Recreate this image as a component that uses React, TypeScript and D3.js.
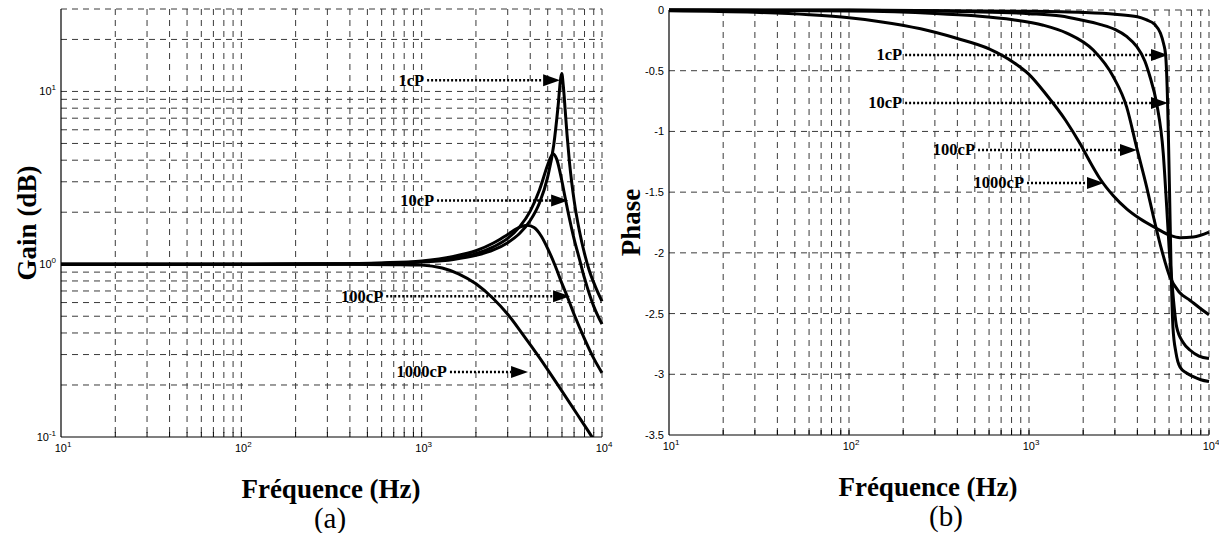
import React from "react";
import * as d3 from "d3";

// ---------- data ----------
const freqMajor = [10, 100, 1000, 10000];
const gainMajor = [0.1, 1, 10];
const phaseTicks = [0, -0.5, -1, -1.5, -2, -2.5, -3, -3.5];
const seriesNames = ["1cP", "10cP", "100cP", "1000cP"];

// gain (linear ratio) vs frequency (Hz)
const gain1cP: [number, number][] = [
  [10, 1], [100, 1.0003], [300, 1.0025], [600, 1.01], [1000, 1.029], [1500, 1.066],
  [2000, 1.125], [2500, 1.21], [3000, 1.333], [3500, 1.51], [4000, 1.79], [4500, 2.26],
  [5000, 3.2], [5400, 4.9], [5700, 8.1], [5900, 11.9], [5985, 12.7], [6100, 10.8],
  [6250, 7.8], [6400, 5.6], [6600, 3.9], [6800, 2.95], [7000, 2.35], [7500, 1.55],
  [8000, 1.15], [8500, 0.92], [9200, 0.74], [10000, 0.61],
];
const gain10cP: [number, number][] = [
  [10, 1], [100, 1.0004], [300, 1.003], [600, 1.012], [1000, 1.034], [1500, 1.08],
  [2000, 1.15], [2500, 1.26], [3000, 1.41], [3500, 1.65], [4000, 2.03], [4500, 2.69],
  [5000, 3.76], [5200, 4.18], [5370, 4.35], [5600, 4.07], [6000, 3.01], [6240, 2.44],
  [6500, 1.98], [7000, 1.4], [7500, 1.07], [8000, 0.83], [9000, 0.57], [10000, 0.45],
];
const gain100cP: [number, number][] = [
  [10, 1], [100, 1.0005], [300, 1.005], [600, 1.018], [1000, 1.045], [1500, 1.11],
  [2000, 1.197], [2500, 1.326], [3000, 1.487], [3500, 1.64], [3850, 1.68], [4200, 1.63],
  [4600, 1.456], [5000, 1.232], [5500, 0.98], [6000, 0.772], [6400, 0.655], [7000, 0.513],
  [8000, 0.37], [9000, 0.285], [10000, 0.235],
];
const gain1000cP: [number, number][] = [
  [10, 1], [100, 1], [300, 0.999], [500, 0.997], [700, 0.994], [1000, 0.988],
  [1300, 0.95], [1600, 0.88], [2000, 0.77], [2500, 0.631], [3000, 0.513], [3660, 0.389],
  [4500, 0.288], [5860, 0.191], [7300, 0.135], [8810, 0.1], [10000, 0.081],
];

// phase vs frequency (Hz)
const phase1cP: [number, number][] = [
  [10, 0], [100, -0.001], [1000, -0.01], [2000, -0.02], [3000, -0.035], [4000, -0.055],
  [4470, -0.08], [5000, -0.12], [5370, -0.19], [5600, -0.28], [5740, -0.37], [5890, -0.77],
  [5960, -1.1], [6030, -1.46], [6150, -2.1], [6310, -2.62], [6550, -2.82], [6900, -2.94],
  [7500, -2.99], [8180, -3.02], [9000, -3.045], [10000, -3.06],
];
const phase10cP: [number, number][] = [
  [10, 0], [100, -0.003], [500, -0.015], [1000, -0.03], [1500, -0.05], [1920, -0.08],
  [2500, -0.12], [3000, -0.16], [3500, -0.22], [3960, -0.3], [4400, -0.42], [4700, -0.55],
  [5120, -0.77], [5570, -1.18], [5820, -1.62], [6000, -1.95], [6190, -2.2], [6610, -2.61],
  [7200, -2.74], [7830, -2.8], [8800, -2.85], [10000, -2.87],
];
const phase100cP: [number, number][] = [
  [10, 0], [100, -0.008], [300, -0.028], [500, -0.048], [815, -0.08], [1200, -0.125],
  [1620, -0.19], [2275, -0.33], [2940, -0.55], [3490, -0.8], [3960, -1.13], [4510, -1.46],
  [4910, -1.7], [5400, -1.95], [6070, -2.2], [6800, -2.32], [7830, -2.39], [9000, -2.46],
  [10000, -2.51],
];
const phase1000cP: [number, number][] = [
  [10, -0.006], [30, -0.019], [60, -0.039], [100, -0.064], [149, -0.096], [250, -0.155],
  [396, -0.233], [600, -0.32], [818, -0.43], [1000, -0.53], [1253, -0.7], [1600, -0.91],
  [1920, -1.1], [2200, -1.26], [2480, -1.39], [2940, -1.53], [3500, -1.64], [4140, -1.72],
  [5130, -1.8], [6070, -1.855], [6900, -1.875], [8180, -1.87], [10000, -1.83],
];

const gainSeries = [gain1cP, gain10cP, gain100cP, gain1000cP];
const phaseSeries = [phase1cP, phase10cP, phase100cP, phase1000cP];

// annotations: label, dotted-line start freq, arrow tip freq, value
const gainNotes = [
  { label: "1cP", start: 1072, tip: 5860, v: 11.6 },
  { label: "10cP", start: 1217, tip: 6490, v: 2.34 },
  { label: "100cP", start: 636, tip: 6650, v: 0.653 },
  { label: "1000cP", start: 1435, tip: 3890, v: 0.238 },
];
const phaseNotes = [
  { label: "1cP", start: 205, tip: 5920, v: -0.37 },
  { label: "10cP", start: 205, tip: 5920, v: -0.766 },
  { label: "100cP", start: 521, tip: 3980, v: -1.153 },
  { label: "1000cP", start: 975, tip: 2610, v: -1.425 },
];

// ---------- layout ----------
const W = 1219;
const H = 533;
const serif = "'Liberation Serif', 'Times New Roman', Times, serif";
const sans = "'Liberation Sans', Arial, Helvetica, sans-serif";
const gridColor = "#3a3a3a";
const dash = "6,5";

function minorLog(lo: number, hi: number): number[] {
  const out: number[] = [];
  for (let d = lo; d < hi; d *= 10) for (let k = 1; k < 10; k++) out.push(d * k);
  out.push(hi);
  return out;
}

function Pow10({ x, y, exp, anchor }: { x: number; y: number; exp: number; anchor: string }) {
  return (
    <text x={x} y={y} fontFamily={sans} fontSize={11} textAnchor={anchor} fill="#000">
      10
      <tspan dy={-5} fontSize={8}>{exp}</tspan>
    </text>
  );
}

function Arrow({ x0, x1, y, label }: { x0: number; x1: number; y: number; label: string }) {
  const head = 17;
  return (
    <g>
      <text x={x0 - 3} y={y} dy="0.33em" textAnchor="end" fontFamily={serif} fontWeight="bold" fontSize={16.5}>
        {label}
      </text>
      <line x1={x0} x2={x1 - head} y1={y} y2={y} stroke="#000" strokeWidth={2.6} strokeDasharray="2,2" />
      <path d={`M${x1 - head},${y - 6}L${x1},${y}L${x1 - head},${y + 6}Z`} fill="#000" />
    </g>
  );
}

function GainPanel() {
  const x = d3.scaleLog().domain([10, 10000]).range([61, 602]);
  const y = d3.scaleLog().domain([0.1, 30]).range([437, 9]);
  const line = d3
    .line<[number, number]>()
    .x((d) => x(d[0]))
    .y((d) => y(d[1]))
    .curve(d3.curveMonotoneX);
  const xg = minorLog(10, 10000).filter((v) => v > 10);
  const yg = [...minorLog(0.1, 10).filter((v) => v > 0.1), 20, 30];
  return (
    <g>
      <defs>
        <clipPath id="clipA">
          <rect x={61} y={5} width={545} height={432} />
        </clipPath>
      </defs>
      {xg.map((v) => (
        <line key={"x" + v} x1={x(v)} x2={x(v)} y1={9} y2={437} stroke={gridColor} strokeDasharray={dash} strokeWidth={1} />
      ))}
      {yg.map((v) => (
        <line key={"y" + v} x1={61} x2={602} y1={y(v)} y2={y(v)} stroke={gridColor} strokeDasharray={dash} strokeWidth={1} />
      ))}
      {xg.map((v) => (
        <line key={"t" + v} x1={x(v)} x2={x(v)} y1={437} y2={432} stroke="#000" strokeWidth={1} />
      ))}
      <line x1={61} x2={61} y1={9} y2={437} stroke="#000" strokeWidth={1.2} />
      <line x1={61} x2={602} y1={437} y2={437} stroke="#000" strokeWidth={1.2} />
      <g clipPath="url(#clipA)">
        {gainSeries.map((s, i) => (
          <path key={seriesNames[i]} d={line(s) || ""} fill="none" stroke="#000" strokeWidth={3} strokeLinejoin="round" />
        ))}
      </g>
      {gainMajor.map((v) => (
        <Pow10 key={"yl" + v} x={56} y={y(v) + 4} exp={Math.round(Math.log10(v))} anchor="end" />
      ))}
      {freqMajor.map((v) => (
        <Pow10 key={"xl" + v} x={x(v) + 2} y={452} exp={Math.round(Math.log10(v))} anchor="middle" />
      ))}
      {gainNotes.map((n) => (
        <Arrow key={n.label} x0={x(n.start)} x1={x(n.tip)} y={y(n.v)} label={n.label} />
      ))}
      <text x={331} y={498} textAnchor="middle" fontFamily={serif} fontWeight="bold" fontSize={27}>
        Fréquence (Hz)
      </text>
      <text x={330} y={528} textAnchor="middle" fontFamily={serif} fontSize={29}>
        (a)
      </text>
      <text
        transform={`translate(36,${(9 + 437) / 2}) rotate(-90)`}
        textAnchor="middle"
        fontFamily={serif}
        fontWeight="bold"
        fontSize={27}
      >
        Gain (dB)
      </text>
    </g>
  );
}

function PhasePanel() {
  const x = d3.scaleLog().domain([10, 10000]).range([669, 1209]);
  const y = d3.scaleLinear().domain([0, -3.5]).range([10, 435]);
  const line = d3
    .line<[number, number]>()
    .x((d) => x(d[0]))
    .y((d) => y(d[1]))
    .curve(d3.curveMonotoneX);
  const xg = minorLog(10, 10000).filter((v) => v > 10);
  const yg = phaseTicks.filter((v) => v > -3.5);
  return (
    <g>
      <defs>
        <clipPath id="clipB">
          <rect x={669} y={5} width={544} height={430} />
        </clipPath>
      </defs>
      {xg.map((v) => (
        <line key={"x" + v} x1={x(v)} x2={x(v)} y1={10} y2={435} stroke={gridColor} strokeDasharray={dash} strokeWidth={1} />
      ))}
      {yg.map((v) => (
        <line key={"y" + v} x1={669} x2={1209} y1={y(v)} y2={y(v)} stroke={gridColor} strokeDasharray={dash} strokeWidth={1} />
      ))}
      {xg.map((v) => (
        <line key={"t" + v} x1={x(v)} x2={x(v)} y1={435} y2={430} stroke="#000" strokeWidth={1} />
      ))}
      <line x1={669} x2={669} y1={10} y2={435} stroke="#000" strokeWidth={1.2} />
      <line x1={669} x2={1209} y1={435} y2={435} stroke="#000" strokeWidth={1.2} />
      <g clipPath="url(#clipB)">
        {phaseSeries.map((s, i) => (
          <path key={seriesNames[i]} d={line(s) || ""} fill="none" stroke="#000" strokeWidth={3} strokeLinejoin="round" />
        ))}
      </g>
      {phaseTicks.map((v) => (
        <text key={"yl" + v} x={664} y={y(v) + 4} textAnchor="end" fontFamily={sans} fontSize={11}>
          {v === 0 ? "0" : String(v)}
        </text>
      ))}
      {freqMajor.map((v) => (
        <Pow10 key={"xl" + v} x={x(v) + 2} y={450} exp={Math.round(Math.log10(v))} anchor="middle" />
      ))}
      {phaseNotes.map((n) => (
        <Arrow key={n.label} x0={x(n.start)} x1={x(n.tip)} y={y(n.v)} label={n.label} />
      ))}
      <text x={928} y={496} textAnchor="middle" fontFamily={serif} fontWeight="bold" fontSize={27}>
        Fréquence (Hz)
      </text>
      <text x={946} y={526} textAnchor="middle" fontFamily={serif} fontSize={29}>
        (b)
      </text>
      <text
        transform={`translate(640,${(10 + 435) / 2}) rotate(-90)`}
        textAnchor="middle"
        fontFamily={serif}
        fontWeight="bold"
        fontSize={27}
      >
        Phase
      </text>
    </g>
  );
}

export default function App() {
  return (
    <div style={{ position: "absolute", left: 0, top: 0, width: W, height: H, background: "#fff" }}>
      <svg width={W} height={H} viewBox={`0 0 ${W} ${H}`} style={{ display: "block" }}>
        <rect width={W} height={H} fill="#fff" />
        <GainPanel />
        <PhasePanel />
      </svg>
    </div>
  );
}
